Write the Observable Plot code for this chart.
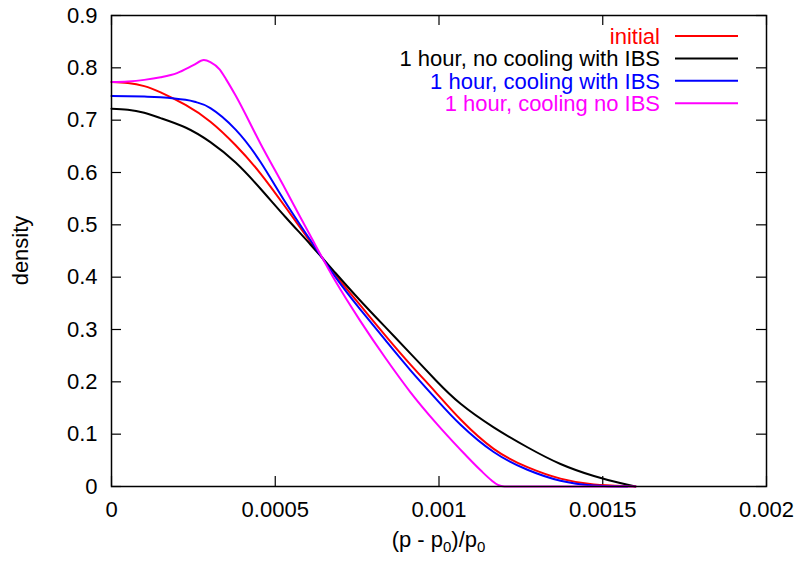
<!DOCTYPE html>
<html>
<head>
<meta charset="utf-8">
<script src="https://cdn.jsdelivr.net/npm/d3@7"></script>
<script src="https://cdn.jsdelivr.net/npm/@observablehq/plot@0.6"></script>
<style>
  html, body { margin: 0; padding: 0; background: #fff; }
  #chart svg { display: block; }
</style>
</head>
<body>
<div id="chart"></div>
<script>
// ---- data ----
const seriesNames = ["initial", "1 hour, no cooling with IBS", "1 hour, cooling with IBS", "1 hour, cooling no IBS"];
const seriesColors = ["#ff0000", "#000000", "#0000ff", "#ff00ff"];

const initialX = [0, 0.00005, 0.0001, 0.00015, 0.000226, 0.000302, 0.000379, 0.000455, 0.000531, 0.000608, 0.000684, 0.00076, 0.000837, 0.000913, 0.00099, 0.001066, 0.001167, 0.00127, 0.001371, 0.001473, 0.001575, 0.0016];
const initialY = [0.773, 0.771, 0.765, 0.753, 0.729, 0.697, 0.652, 0.598, 0.534, 0.467, 0.404, 0.346, 0.288, 0.233, 0.180, 0.128, 0.072, 0.037, 0.015, 0.004, 0.001, 0];

const noCoolX = [0, 0.00005, 0.0001, 0.00015, 0.000226, 0.000302, 0.000379, 0.000455, 0.000531, 0.000608, 0.000684, 0.00076, 0.000837, 0.000913, 0.00099, 0.001066, 0.001167, 0.00127, 0.001371, 0.001473, 0.00155, 0.0016];
const noCoolY = [0.722, 0.720, 0.714, 0.704, 0.686, 0.658, 0.619, 0.569, 0.515, 0.462, 0.408, 0.355, 0.304, 0.254, 0.203, 0.158, 0.113, 0.075, 0.043, 0.020, 0.007, 0];

const coolIbsX = [0, 0.0001, 0.00015, 0.000226, 0.00026, 0.000302, 0.000379, 0.000455, 0.000531, 0.000608, 0.000684, 0.00076, 0.000837, 0.000913, 0.00099, 0.001066, 0.001167, 0.00127, 0.001371, 0.001473, 0.001575];
const coolIbsY = [0.746, 0.745, 0.744, 0.739, 0.734, 0.723, 0.682, 0.620, 0.543, 0.470, 0.400, 0.338, 0.279, 0.222, 0.168, 0.118, 0.066, 0.032, 0.011, 0.002, 0];

const coolNoIbsX = [0, 0.00005, 0.0001, 0.00015, 0.0002, 0.00025, 0.000282, 0.000302, 0.00033, 0.00035, 0.000379, 0.000455, 0.000531, 0.000608, 0.000684, 0.00076, 0.000837, 0.000913, 0.00099, 0.001066, 0.001127, 0.00116, 0.00118, 0.0012, 0.0016];
const coolNoIbsY = [0.773, 0.774, 0.777, 0.782, 0.790, 0.805, 0.815, 0.811, 0.797, 0.778, 0.747, 0.655, 0.568, 0.478, 0.392, 0.316, 0.245, 0.180, 0.122, 0.070, 0.031, 0.012, 0.003, 0, 0];

const xTicks = [0, 0.0005, 0.001, 0.0015, 0.002];
const xTickLabels = ["0", "0.0005", "0.001", "0.0015", "0.002"];
const yTicks = [0, 0.1, 0.2, 0.3, 0.4, 0.5, 0.6, 0.7, 0.8, 0.9];
const yTickLabels = ["0", "0.1", "0.2", "0.3", "0.4", "0.5", "0.6", "0.7", "0.8", "0.9"];
const yLabel = "density";

// ---- build table ----
const seriesXY = [[initialX, initialY], [noCoolX, noCoolY], [coolIbsX, coolIbsY], [coolNoIbsX, coolNoIbsY]];
const rows = [];
seriesXY.forEach(([xs, ys], i) => xs.forEach((x, j) => rows.push({series: seriesNames[i], x, y: ys[j]})));
const smoothRows = rows.filter(d => d.series !== seriesNames[3]);
const peakRows = rows.filter(d => d.series === seriesNames[3]);

const W = 800, H = 561, mL = 111, mR = 34, mT = 15, mB = 75;
const plotW = W - mL - mR, plotH = H - mT - mB;
const tickLen = 10;
const font = "'Liberation Sans', Arial, Helvetica, sans-serif";
const fs = 22;

const chart = Plot.plot({
  width: W, height: H,
  marginLeft: mL, marginRight: mR, marginTop: mT, marginBottom: mB,
  style: {fontFamily: font, fontSize: fs + "px", background: "#fff", color: "#000"},
  x: {domain: [0, 0.002]},
  y: {domain: [0, 0.9]},
  color: {domain: seriesNames, range: seriesColors},
  marks: [
    Plot.axisX(xTicks, {tickSize: 0, tickPadding: 15, tickFormat: d => xTickLabels[xTicks.indexOf(d)], label: null, fill: "#000"}),
    Plot.axisY(yTicks, {tickSize: 0, tickPadding: 14, tickFormat: d => yTickLabels[yTicks.indexOf(d)], label: null, fill: "#000"}),
    Plot.tickX(xTicks, {x: d => d, insetTop: plotH - tickLen, stroke: "#000", strokeWidth: 1.2}),
    Plot.tickX(xTicks, {x: d => d, insetBottom: plotH - tickLen, stroke: "#000", strokeWidth: 1.2}),
    Plot.tickY(yTicks, {y: d => d, insetRight: plotW - tickLen, stroke: "#000", strokeWidth: 1.2}),
    Plot.tickY(yTicks, {y: d => d, insetLeft: plotW - tickLen, stroke: "#000", strokeWidth: 1.2}),
    Plot.line(smoothRows, {x: "x", y: "y", z: "series", stroke: "series", strokeWidth: 2, curve: "natural"}),
    Plot.line(peakRows, {x: "x", y: "y", z: "series", stroke: "series", strokeWidth: 2, curve: "monotone-x"}),
    Plot.frame({stroke: "#000", strokeWidth: 1.5})
  ]
});

document.getElementById("chart").appendChild(chart);

// ---- axis titles and legend ----
const svg = d3.select(chart);
const xl = svg.append("text")
  .attr("x", mL + plotW / 2).attr("y", 547)
  .attr("text-anchor", "middle")
  .attr("font-family", font).attr("font-size", fs).attr("fill", "#000");
xl.append("tspan").text("(p - p");
xl.append("tspan").attr("font-size", 15).attr("dy", 5).text("0");
xl.append("tspan").attr("dy", -5).text(")/p");
xl.append("tspan").attr("font-size", 15).attr("dy", 5).text("0");

svg.append("text")
  .attr("transform", `translate(28,${mT + plotH / 2}) rotate(-90)`)
  .attr("text-anchor", "middle")
  .attr("font-family", font).attr("font-size", fs).attr("fill", "#000")
  .text(yLabel);

const leg = svg.append("g");
seriesNames.forEach((name, i) => {
  const ly = 36 + 22.4 * i;
  leg.append("text")
    .attr("x", 660).attr("y", ly + 7.8)
    .attr("text-anchor", "end")
    .attr("font-family", font).attr("font-size", fs)
    .attr("fill", seriesColors[i])
    .text(name);
  leg.append("line")
    .attr("x1", 675).attr("x2", 738).attr("y1", ly).attr("y2", ly)
    .attr("stroke", seriesColors[i]).attr("stroke-width", 2);
});
</script>
</body>
</html>
